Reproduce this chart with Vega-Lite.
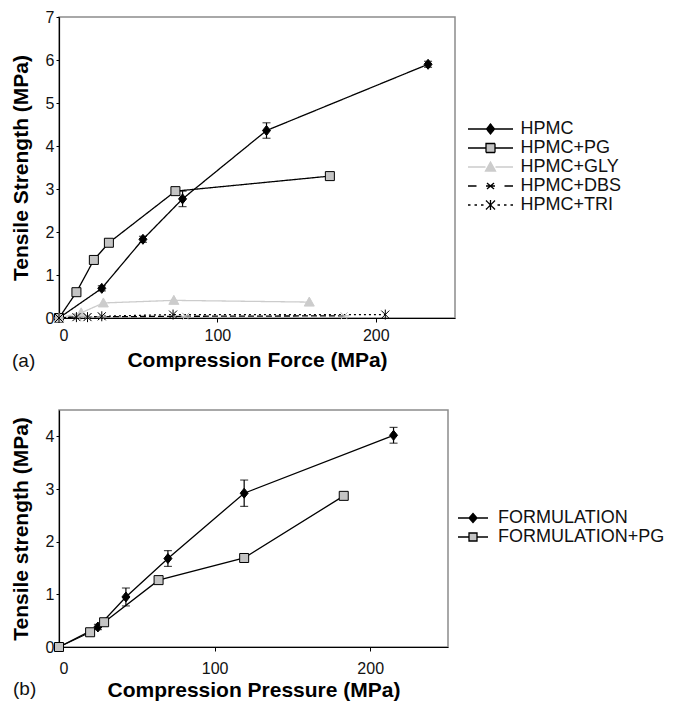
{
  "$schema": "https://vega.github.io/schema/vega-lite/v6.json",
  "background": "white",
  "padding": {"left": 9, "top": 8, "right": 5, "bottom": 0},
  "spacing": 92,
  "bounds": "flush",
  "config": {
    "font": "Liberation Sans",
    "view": {"stroke": "#8c8c8c", "strokeWidth": 1.5},
    "axis": {"grid": false, "domainColor": "#000", "domainWidth": 1.2, "tickColor": "#000", "labelColor": "#111", "titleColor": "#000", "labelFont": "Liberation Sans", "titleFont": "Liberation Sans", "labelFontSize": 16, "titleFontSize": 21, "titleFontWeight": "bold", "tickSize": 3, "labelPadding": 2},
    "title": {"font": "Liberation Sans", "fontSize": 19, "fontWeight": "normal", "color": "#111"},
    "legend": {"labelFont": "Liberation Sans", "labelFontSize": 18, "labelColor": "#111", "padding": 0, "rowPadding": 1, "labelLimit": 300}
  },
  "vconcat": [
    {
      "width": 396,
      "height": 301,
      "title": {"text": "(a)", "orient": "bottom", "anchor": "start", "frame": "group", "dx": -47, "offset": -18},
      "data": {"values": [
        {"series": "HPMC", "x": 0, "y": 0, "err": 0},
        {"series": "HPMC", "x": 27, "y": 0.69, "err": 0.06},
        {"series": "HPMC", "x": 53, "y": 1.83, "err": 0.07},
        {"series": "HPMC", "x": 78, "y": 2.77, "err": 0.18},
        {"series": "HPMC", "x": 131, "y": 4.36, "err": 0.18},
        {"series": "HPMC", "x": 233, "y": 5.9, "err": 0.07},
        {"series": "HPMC+PG", "x": 0, "y": 0, "err": 0},
        {"series": "HPMC+PG", "x": 11, "y": 0.6, "err": 0},
        {"series": "HPMC+PG", "x": 22, "y": 1.35, "err": 0},
        {"series": "HPMC+PG", "x": 31.5, "y": 1.75, "err": 0},
        {"series": "HPMC+PG", "x": 73.5, "y": 2.95, "err": 0},
        {"series": "HPMC+PG", "x": 171, "y": 3.3, "err": 0},
        {"series": "HPMC+GLY", "x": 0, "y": 0, "err": 0},
        {"series": "HPMC+GLY", "x": 14, "y": 0.12, "err": 0},
        {"series": "HPMC+GLY", "x": 28, "y": 0.35, "err": 0},
        {"series": "HPMC+GLY", "x": 72.5, "y": 0.41, "err": 0},
        {"series": "HPMC+GLY", "x": 158, "y": 0.37, "err": 0},
        {"series": "HPMC+DBS", "x": 0, "y": 0, "err": 0},
        {"series": "HPMC+DBS", "x": 12, "y": 0.03, "err": 0},
        {"series": "HPMC+DBS", "x": 18, "y": 0.03, "err": 0},
        {"series": "HPMC+DBS", "x": 27, "y": 0.03, "err": 0},
        {"series": "HPMC+DBS", "x": 80, "y": 0.04, "err": 0},
        {"series": "HPMC+DBS", "x": 180, "y": 0.05, "err": 0},
        {"series": "HPMC+TRI", "x": 0, "y": 0, "err": 0},
        {"series": "HPMC+TRI", "x": 11, "y": 0.02, "err": 0},
        {"series": "HPMC+TRI", "x": 18, "y": 0.02, "err": 0},
        {"series": "HPMC+TRI", "x": 27, "y": 0.04, "err": 0},
        {"series": "HPMC+TRI", "x": 72, "y": 0.08, "err": 0},
        {"series": "HPMC+TRI", "x": 206, "y": 0.08, "err": 0}
      ]},
      "resolve": {"scale": {"stroke": "independent"}},
      "layer": [
        {
          "mark": {"type": "line", "strokeWidth": 1.3},
          "encoding": {
            "x": {"field": "x", "type": "quantitative", "title": "Compression Force (MPa)", "scale": {"domain": [0, 250], "nice": false}, "axis": {"values": [0, 100, 200], "labelPadding": 5, "tickSize": 4, "titlePadding": 6}},
            "y": {"field": "y", "type": "quantitative", "title": "Tensile Strength (MPa)", "scale": {"domain": [0, 7], "nice": false}, "axis": {"values": [0, 1, 2, 3, 4, 5, 6, 7], "titlePadding": 14}},
            "stroke": {"field": "series", "type": "nominal", "sort": null,
              "scale": {"domain": ["HPMC", "HPMC+PG", "HPMC+GLY", "HPMC+DBS", "HPMC+TRI"], "range": ["#000000", "#000000", "#cccccc", "#000000", "#000000"]},
              "legend": {
                "orient": "none", "legendX": 405, "legendY": 103, "title": null,
                "symbolSize": 100, "symbolOffset": 17.5, "labelOffset": 21, "symbolStrokeWidth": 1.3,
                "encode": {"symbols": {"update": {
                  "shape": {"signal": "datum.value === 'HPMC' ? 'M-4.5,0H4.5M0,-1L0.8,0L0,1L-0.8,0Z' : datum.value === 'HPMC+PG' ? 'M-4.5,0H-0.9M0.9,0H4.5M-0.9,-0.9H0.9V0.9H-0.9Z' : datum.value === 'HPMC+GLY' ? 'M-4.5,0H-1M1,0H4.5M0,-1L1,0.8L-1,0.8Z' : datum.value === 'HPMC+DBS' ? 'M-4.5,0H-2.8M2.8,0H4.5M-0.7,-0.6L0.7,0.6M-0.7,0.6L0.7,-0.6M-0.9,0H0.9' : 'M-4.5,0H-4M-3.2,0H-2.7M-1.9,0H-1.4M1.4,0H1.9M2.7,0H3.2M4,0H4.5M-0.9,-0.9L0.9,0.9M-0.9,0.9L0.9,-0.9M0,-1V1'"},
                  "fill": {"signal": "datum.value === 'HPMC' ? '#000000' : datum.value === 'HPMC+PG' ? '#c4c4c4' : datum.value === 'HPMC+GLY' ? '#cccccc' : 'transparent'"},
                  "stroke": {"signal": "datum.value === 'HPMC+GLY' ? '#cccccc' : '#000000'"},
                  "strokeDash": {"value": [1, 0]}
                }}}
              }
            },
            "strokeDash": {"field": "series", "type": "nominal", "sort": null,
              "scale": {"domain": ["HPMC", "HPMC+PG", "HPMC+GLY", "HPMC+DBS", "HPMC+TRI"], "range": [[1, 0], [1, 0], [1, 0], [6, 3], [2, 3]]},
              "legend": null}
          }
        },
        {
          "transform": [{"filter": "datum.err > 0"}],
          "mark": {"type": "errorbar", "ticks": {"size": 8}, "thickness": 1.2, "color": "#000000"},
          "encoding": {
            "x": {"field": "x", "type": "quantitative", "title": "Compression Force (MPa)"},
            "y": {"field": "y", "type": "quantitative", "title": "Tensile Strength (MPa)"},
            "yError": {"field": "err"}
          }
        },
        {
          "mark": {"type": "point", "filled": true, "opacity": 1, "strokeWidth": 1, "size": 100},
          "encoding": {
            "x": {"field": "x", "type": "quantitative", "title": "Compression Force (MPa)"},
            "y": {"field": "y", "type": "quantitative", "title": "Tensile Strength (MPa)"},
            "shape": {"field": "series", "type": "nominal", "sort": null, "legend": null,
              "scale": {"domain": ["HPMC", "HPMC+PG", "HPMC+GLY", "HPMC+DBS", "HPMC+TRI"], "range": ["M0,-1L0.8,0L0,1L-0.8,0Z", "M-0.9,-0.9H0.9V0.9H-0.9Z", "M0,-1L1,0.8L-1,0.8Z", "M-0.7,-0.7L0.7,0.7M-0.7,0.7L0.7,-0.7M-1,0H1", "M-0.8,-0.8L0.8,0.8M-0.8,0.8L0.8,-0.8M0,-1V1"]}},
            "fill": {"field": "series", "type": "nominal", "sort": null, "legend": null,
              "scale": {"domain": ["HPMC", "HPMC+PG", "HPMC+GLY", "HPMC+DBS", "HPMC+TRI"], "range": ["#000000", "#c4c4c4", "#cccccc", "#bbbbbb", "#000000"]}},
            "stroke": {"field": "series", "type": "nominal", "sort": null, "legend": null,
              "scale": {"domain": ["HPMC", "HPMC+PG", "HPMC+GLY", "HPMC+DBS", "HPMC+TRI"], "range": ["#000000", "#000000", "#cccccc", "#b0b0b0", "#000000"]}}
          }
        }
      ]
    },
    {
      "width": 389,
      "height": 237,
      "title": {"text": "(b)", "orient": "bottom", "anchor": "start", "frame": "group", "dx": -46, "offset": -20},
      "data": {"values": [
        {"series": "FORMULATION", "x": 0, "y": 0, "err": 0},
        {"series": "FORMULATION", "x": 25, "y": 0.38, "err": 0.05},
        {"series": "FORMULATION", "x": 43, "y": 0.95, "err": 0.17},
        {"series": "FORMULATION", "x": 70, "y": 1.68, "err": 0.15},
        {"series": "FORMULATION", "x": 119, "y": 2.92, "err": 0.25},
        {"series": "FORMULATION", "x": 215, "y": 4.02, "err": 0.15},
        {"series": "FORMULATION+PG", "x": 0, "y": 0, "err": 0},
        {"series": "FORMULATION+PG", "x": 20, "y": 0.28, "err": 0},
        {"series": "FORMULATION+PG", "x": 29, "y": 0.47, "err": 0},
        {"series": "FORMULATION+PG", "x": 64, "y": 1.27, "err": 0},
        {"series": "FORMULATION+PG", "x": 119, "y": 1.69, "err": 0},
        {"series": "FORMULATION+PG", "x": 183, "y": 2.87, "err": 0}
      ]},
      "resolve": {"scale": {"stroke": "independent"}},
      "layer": [
        {
          "mark": {"type": "line", "strokeWidth": 1.3, "color": "#000000"},
          "encoding": {
            "x": {"field": "x", "type": "quantitative", "title": "Compression Pressure (MPa)", "scale": {"domain": [0, 250], "nice": false}, "axis": {"values": [0, 100, 200], "labelPadding": 9, "tickSize": 4, "titlePadding": 3}},
            "y": {"field": "y", "type": "quantitative", "title": "Tensile strength (MPa)", "scale": {"domain": [0, 4.5], "nice": false}, "axis": {"values": [0, 1, 2, 3, 4], "titlePadding": 14}},
            "stroke": {"field": "series", "type": "nominal", "sort": null,
              "scale": {"domain": ["FORMULATION", "FORMULATION+PG"], "range": ["#000000", "#000000"]},
              "legend": {
                "orient": "none", "legendX": 397, "legendY": 99, "title": null,
                "symbolSize": 100, "symbolOffset": 8, "labelOffset": 16, "symbolStrokeWidth": 1.3,
                "encode": {"symbols": {"update": {
                  "shape": {"signal": "datum.value === 'FORMULATION' ? 'M-3,0H3M0,-0.9L0.8,0L0,0.9L-0.8,0Z' : 'M-3,0H-0.8M0.8,0H3M-0.8,-0.8H0.8V0.8H-0.8Z'"},
                  "fill": {"signal": "datum.value === 'FORMULATION' ? '#000000' : '#c4c4c4'"},
                  "stroke": {"value": "#000000"}
                }}}
              }
            }
          }
        },
        {
          "transform": [{"filter": "datum.err > 0"}],
          "mark": {"type": "errorbar", "ticks": {"size": 8}, "thickness": 1.2, "color": "#000000"},
          "encoding": {
            "x": {"field": "x", "type": "quantitative", "title": "Compression Pressure (MPa)"},
            "y": {"field": "y", "type": "quantitative", "title": "Tensile strength (MPa)"},
            "yError": {"field": "err"}
          }
        },
        {
          "mark": {"type": "point", "filled": true, "opacity": 1, "strokeWidth": 1, "size": 100},
          "encoding": {
            "x": {"field": "x", "type": "quantitative", "title": "Compression Pressure (MPa)"},
            "y": {"field": "y", "type": "quantitative", "title": "Tensile strength (MPa)"},
            "shape": {"field": "series", "type": "nominal", "sort": null, "legend": null,
              "scale": {"domain": ["FORMULATION", "FORMULATION+PG"], "range": ["M0,-1L0.8,0L0,1L-0.8,0Z", "M-0.9,-0.9H0.9V0.9H-0.9Z"]}},
            "fill": {"field": "series", "type": "nominal", "sort": null, "legend": null,
              "scale": {"domain": ["FORMULATION", "FORMULATION+PG"], "range": ["#000000", "#c4c4c4"]}},
            "stroke": {"field": "series", "type": "nominal", "sort": null, "legend": null,
              "scale": {"domain": ["FORMULATION", "FORMULATION+PG"], "range": ["#000000", "#000000"]}}
          }
        }
      ]
    }
  ]
}
